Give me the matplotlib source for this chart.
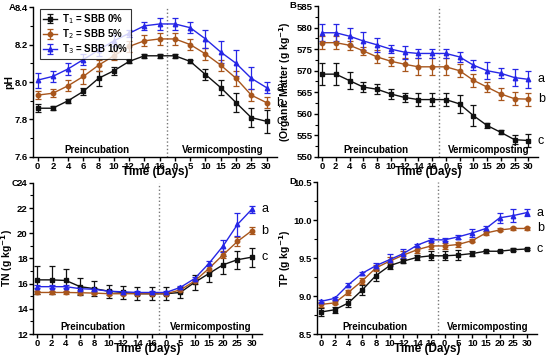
"""Vermicomposting chart: pH, OM, TN, TP."""
import numpy as np
import matplotlib
matplotlib.use('Agg')
import matplotlib.pyplot as plt
from matplotlib.ticker import AutoMinorLocator

plt.rcParams['font.family'] = ['Liberation Sans', 'DejaVu Sans']

# x categories: preincubation days, then vermicomposting days
day_labels = ['0', '2', '4', '6', '8', '10', '12', '14', '16',
              '0', '5', '10', '15', '20', '25', '30']

series_names = ['T$_1$ = SBB 0%', 'T$_2$ = SBB 5%', 'T$_3$ = SBB 10%']

# pH
ph_t1 = [7.86, 7.86, 7.90, 7.95, 8.02, 8.06, 8.11, 8.14, 8.14, 8.14, 8.11, 8.04, 7.97, 7.89, 7.81, 7.79]
ph_t2 = [7.93, 7.94, 7.98, 8.03, 8.09, 8.14, 8.19, 8.22, 8.23, 8.23, 8.20, 8.15, 8.09, 8.02, 7.93, 7.89]
ph_t3 = [8.01, 8.03, 8.07, 8.12, 8.17, 8.22, 8.26, 8.30, 8.31, 8.31, 8.29, 8.23, 8.16, 8.10, 8.02, 7.97]
ph_e1 = [0.02, 0.01, 0.01, 0.02, 0.04, 0.02, 0.01, 0.01, 0.01, 0.01, 0.01, 0.03, 0.04, 0.05, 0.05, 0.06]
ph_e2 = [0.02, 0.02, 0.03, 0.04, 0.03, 0.02, 0.03, 0.03, 0.03, 0.03, 0.03, 0.03, 0.03, 0.04, 0.03, 0.03]
ph_e3 = [0.04, 0.03, 0.03, 0.03, 0.03, 0.03, 0.02, 0.02, 0.03, 0.03, 0.03, 0.05, 0.06, 0.07, 0.06, 0.03]

# organic matter
om_t1 = [569.2, 569.2, 567.7, 566.2, 565.7, 564.6, 563.8, 563.3, 563.3, 563.3, 562.3, 559.6, 557.3, 555.7, 554.0, 553.8]
om_t2 = [576.5, 576.5, 575.9, 574.6, 573.2, 572.2, 571.5, 570.9, 570.9, 570.9, 570.0, 567.8, 566.2, 564.6, 563.5, 563.4]
om_t3 = [578.8, 578.8, 578.0, 576.9, 576.0, 575.0, 574.3, 574.0, 574.0, 574.0, 573.2, 571.3, 570.0, 569.4, 568.4, 568.0]
om_e1 = [2.5, 2.5, 2.0, 1.2, 1.2, 1.2, 1.0, 1.5, 1.5, 1.5, 2.0, 2.5, 0.5, 0.5, 1.0, 1.5]
om_e2 = [1.5, 1.5, 1.0, 1.0, 1.5, 1.0, 1.5, 2.0, 2.0, 2.0, 1.5, 1.5, 1.2, 1.5, 1.5, 1.5]
om_e3 = [2.0, 2.0, 2.0, 2.0, 1.7, 1.0, 1.5, 1.0, 1.0, 1.0, 1.2, 1.2, 2.0, 1.2, 2.0, 2.0]

# total nitrogen
tn_t1 = [16.3, 16.3, 16.25, 15.76, 15.6, 15.4, 15.3, 15.2, 15.2, 15.2, 15.3, 16.1, 16.8, 17.5, 17.9, 18.1]
tn_t2 = [15.3, 15.3, 15.3, 15.28, 15.25, 15.2, 15.2, 15.2, 15.2, 15.2, 15.5, 16.2, 17.2, 18.3, 19.35, 20.2]
tn_t3 = [15.76, 15.76, 15.76, 15.6, 15.55, 15.4, 15.35, 15.3, 15.3, 15.3, 15.7, 16.4, 17.6, 19.0, 20.7, 21.9]
tn_e1 = [1.1, 1.1, 0.9, 0.7, 0.6, 0.5, 0.5, 0.5, 0.5, 0.5, 0.4, 0.6, 0.7, 0.7, 0.7, 0.75]
tn_e2 = [0.1, 0.1, 0.1, 0.1, 0.1, 0.1, 0.1, 0.1, 0.1, 0.1, 0.15, 0.2, 0.25, 0.3, 0.35, 0.3]
tn_e3 = [0.1, 0.1, 0.1, 0.1, 0.1, 0.1, 0.1, 0.1, 0.1, 0.1, 0.1, 0.15, 0.2, 0.5, 0.9, 0.3]

# total phosphorus
tp_t1 = [8.79, 8.82, 8.91, 9.08, 9.27, 9.40, 9.46, 9.51, 9.53, 9.53, 9.54, 9.56, 9.59, 9.59, 9.61, 9.62]
tp_t2 = [8.89, 8.91, 9.05, 9.20, 9.37, 9.46, 9.54, 9.61, 9.66, 9.66, 9.68, 9.73, 9.83, 9.87, 9.89, 9.89]
tp_t3 = [8.93, 8.97, 9.15, 9.30, 9.40, 9.48, 9.56, 9.67, 9.74, 9.74, 9.78, 9.83, 9.89, 10.03, 10.06, 10.10]
tp_e1 = [0.05, 0.04, 0.05, 0.06, 0.07, 0.04, 0.03, 0.03, 0.06, 0.06, 0.06, 0.03, 0.02, 0.01, 0.02, 0.01]
tp_e2 = [0.03, 0.02, 0.03, 0.04, 0.04, 0.05, 0.05, 0.04, 0.04, 0.04, 0.03, 0.02, 0.03, 0.02, 0.02, 0.02]
tp_e3 = [0.02, 0.02, 0.02, 0.02, 0.04, 0.08, 0.06, 0.02, 0.02, 0.02, 0.03, 0.05, 0.03, 0.07, 0.08, 0.05]

colors = ['#111111', '#a8561c', '#2626e6']
markers = ['s', 'o', '^']
x = np.arange(len(day_labels))


def draw_panel(ax, ys, errs, ylim, step, fmt, ylabel, ylabel_x):
    """Draw one panel with three series and error bars."""
    for y, e, c, m, name in zip(ys, errs, colors, markers, series_names):
        ax.errorbar(x, y, yerr=e, color=c, marker=m, markersize=3.2,
                    lw=1.0, elinewidth=0.9, capsize=2, capthick=0.9,
                    label=name)
    ax.set_xlim(-0.3, 15.7)
    ax.set_ylim(*ylim)
    yt = np.arange(ylim[0], ylim[1] + step / 2, step)
    ax.set_yticks(yt)
    ax.set_yticklabels([fmt % v for v in yt])
    ax.yaxis.set_minor_locator(AutoMinorLocator(2))
    ax.set_xticks(x)
    ax.set_xticklabels(day_labels)
    ax.spines['top'].set_visible(False)
    ax.spines['right'].set_visible(False)
    for s in ['left', 'bottom']:
        ax.spines[s].set_linewidth(1.0)
    ax.tick_params(labelsize=6.8, width=1.0, length=3, pad=0.8)
    ax.tick_params(which='minor', length=2, width=0.8)
    for lab in ax.get_xticklabels() + ax.get_yticklabels():
        lab.set_fontweight('bold')
    ax.axvline(8.5, color='#777777', ls=':', lw=1.0)
    ax.set_xlabel('Time (Days)', fontsize=8.5, fontweight='bold', labelpad=-3.5)
    ax.set_ylabel(ylabel, fontsize=7.5, fontweight='bold')
    ax.yaxis.set_label_coords(ylabel_x, 0.5)
    base = ylim[0] + (ylim[1] - ylim[0]) * 0.012
    ax.text(3.9, base, 'Preincubation', fontsize=7, fontweight='bold',
            ha='center', va='bottom')
    ax.text(12.1, base, 'Vermicomposting', fontsize=7, fontweight='bold',
            ha='center', va='bottom')
    # group letters next to last points
    order = np.argsort([y[-1] for y in ys])[::-1]
    for letter_s, idx in zip(['a', 'b', 'c'], order):
        ax.annotate(letter_s, xy=(x[-1], ys[idx][-1]), xytext=(7, 0),
                    textcoords='offset points', fontsize=9, va='center',
                    annotation_clip=False)


fig = plt.figure(figsize=(5.5, 3.55), dpi=100)
ax_a = fig.add_axes([0.06, 0.558, 0.444, 0.422])
ax_b = fig.add_axes([0.578, 0.558, 0.40, 0.425])
ax_c = fig.add_axes([0.06, 0.059, 0.416, 0.426])
ax_d = fig.add_axes([0.576, 0.059, 0.40, 0.428])

draw_panel(ax_a, [ph_t1, ph_t2, ph_t3], [ph_e1, ph_e2, ph_e3],
           (7.6, 8.4), 0.2, '%.1f', 'pH', -0.075)
draw_panel(ax_b, [om_t1, om_t2, om_t3], [om_e1, om_e2, om_e3],
           (550, 585), 5, '%d', '(Organic Matter (g kg$^{\\mathbf{-1}}$)', -0.115)
draw_panel(ax_c, [tn_t1, tn_t2, tn_t3], [tn_e1, tn_e2, tn_e3],
           (12, 24), 2, '%d', 'TN (g kg$^{\\mathbf{-1}}$)', -0.078)
draw_panel(ax_d, [tp_t1, tp_t2, tp_t3], [tp_e1, tp_e2, tp_e3],
           (8.5, 10.5), 0.5, '%.1f', 'TP (g kg$^{\\mathbf{-1}}$)', -0.11)

# panel letters just left of the top tick labels
for letter, fx, fy in [('A', 15.5, 7), ('B', 296, 6), ('C', 18, 183), ('D', 296, 182)]:
    fig.text(fx / 550, 1 - fy / 355, letter, fontsize=6.8, fontweight='bold',
             ha='right', va='center')

leg = ax_a.legend(loc='upper left', bbox_to_anchor=(0.02, 1.0),
                  prop={'size': 7, 'weight': 'bold'}, frameon=True,
                  fancybox=False, edgecolor='black', handlelength=1.5,
                  borderpad=0.3, labelspacing=0.15, handletextpad=0.5,
                  borderaxespad=0.2)
leg.get_frame().set_linewidth(0.8)

fig.savefig('out.png', dpi=100)
